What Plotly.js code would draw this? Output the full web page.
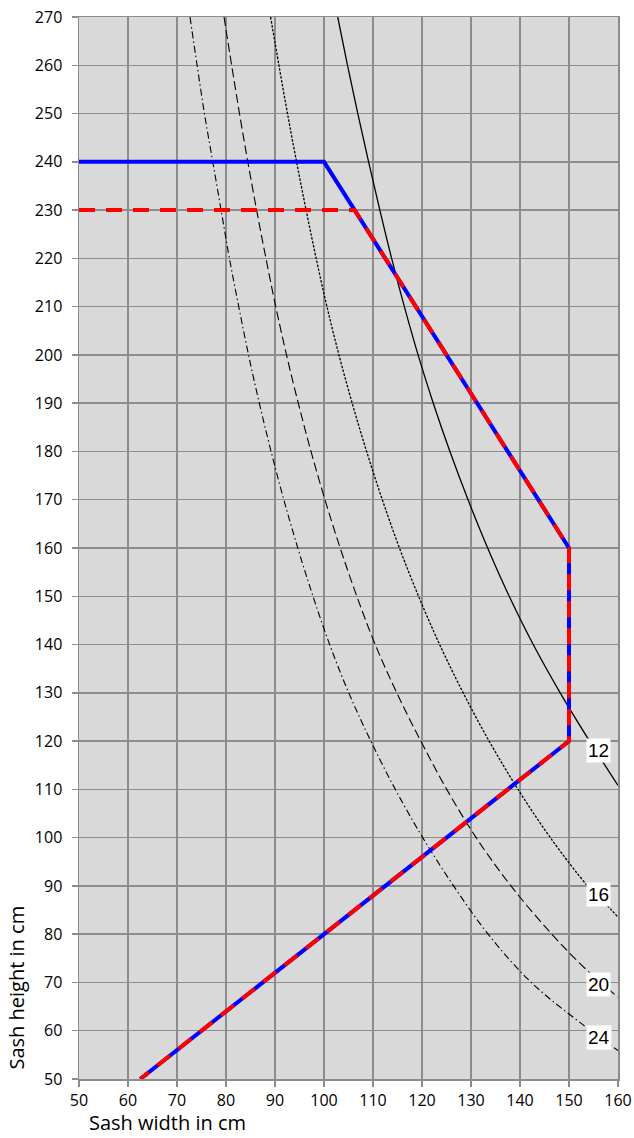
<!DOCTYPE html>
<html>
<head>
<meta charset="utf-8">
<script src="https://cdn.plot.ly/plotly-3.0.1.min.js"></script>
<style>
html,body{margin:0;padding:0;background:#fff;}
#chart{width:634px;height:1138px;}
</style>
</head>
<body>
<div id="chart"></div>
<script>
// ---- data ----
var xTicks = [50,60,70,80,90,100,110,120,130,140,150,160];
var yTicks = [50,60,70,80,90,100,110,120,130,140,150,160,170,180,190,200,210,220,230,240,250,260,270];

var curveLabels = ["12","16","20","24"];

var c12x = [102.8,104.8,106.9,109.1,111.4,113.8,116.4,119.2,122.3,125.7,129.4,133.4,137.8,142.7,148.2,154.2,160.0];
var c12y = [270,260,250,240,230,220,210,200,190,180,170,160,150,140,130,120,110.8];

var c16x = [89.1,90.8,92.55,94.4,96.35,98.4,100.6,103.05,105.75,108.7,111.9,115.4,119.3,123.6,128.4,133.7,139.6,146.2,153.8,157.1,160.2];
var c16y = [270,260,250,240,230,220,210,200,190,180,170,160,150,140,130,120,110,100,90,86.7,83.3];

var c20x = [79.6,81.15,82.75,84.45,86.25,88.15,90.15,92.35,94.75,97.35,100.2,103.3,106.7,110.45,114.85,119.75,125.05,131.05,138.15,146.5,153.6,160.3];
var c20y = [270,260,250,240,230,220,210,200,190,180,170,160,150,140,130,120,110,100,90,80,72.6,66.7];

var c24x = [72.65,74.1,75.6,77.3,79.0,80.7,82.6,84.6,86.8,89.2,91.8,94.65,97.75,101.15,105.05,109.55,114.55,120.15,126.45,133.5,142.3,152.9,160.0];
var c24y = [270,260,250,240,230,220,210,200,190,180,170,160,150,140,130,120,110,100,90,80,70,61.2,55.9];

var blueX = [50,100,150,150,62.5];
var blueY = [240,240,160,120,50];

var redX = [50,106.25,150,150,62.5];
var redY = [230,230,160,120,50];

// ---- traces ----
function curve(x,y,dash,w){
  return {x:x,y:y,mode:'lines',type:'scatter',hoverinfo:'skip',
    line:{color:'#000000',width:w,dash:dash,shape:'spline',smoothing:1}};
}
var traces = [
  curve(c24x,c24y,'7px,3px,1.5px,3px',1.1),
  curve(c20x,c20y,'9px,4px',1.1),
  curve(c16x,c16y,'2.5px,1.5px',1.3),
  curve(c12x,c12y,'solid',1.3),
  {x:blueX,y:blueY,mode:'lines',type:'scatter',line:{color:'#0000ff',width:4},hoverinfo:'skip'},
  {x:redX,y:redY,mode:'lines',type:'scatter',line:{color:'#ff0000',width:4,dash:'16px,11px'},hoverinfo:'skip'}
];

var labelPos = [[156.1,118.0],[156.1,88.3],[156.1,69.6],[156.1,58.65]];
var annotations = curveLabels.map(function(t,i){
  return {x:labelPos[i][0],y:labelPos[i][1],xref:'x',yref:'y',text:t,showarrow:false,
    font:{family:'Liberation Sans, Arial, sans-serif',size:19,color:'#000'},
    bgcolor:'#ffffff',borderpad:1,xanchor:'center',yanchor:'middle'};
});
annotations.push({xref:'paper',yref:'paper',x:0.0148,y:-0.0405,xanchor:'left',yanchor:'middle',
  text:'Sash width in cm',showarrow:false,font:{family:'Open Sans, sans-serif',size:20,color:'#000'}});
annotations.push({xref:'paper',yref:'paper',x:-0.116,y:0.0866,xanchor:'center',yanchor:'middle',textangle:-90,
  text:'Sash height in cm',showarrow:false,font:{family:'Open Sans, sans-serif',size:20,color:'#000'}});

var axisCommon = {
  showgrid:true, gridcolor:'#8c8c8c', gridwidth:1.5,
  showline:true, linecolor:'#8c8c8c', linewidth:1.5, mirror:true,
  ticks:'outside', ticklen:6, tickcolor:'#8c8c8c', tickwidth:1.5,
  zeroline:false, tickfont:{family:'Open Sans, sans-serif',size:16,color:'#000'}
};

var layout = {
  width:634, height:1138,
  margin:{l:79,r:16,t:17,b:59},
  paper_bgcolor:'#ffffff', plot_bgcolor:'#d9d9d9',
  showlegend:false,
  xaxis:Object.assign({},axisCommon,{range:[50,160],tickmode:'array',tickvals:xTicks,ticktext:xTicks.map(String)}),
  yaxis:Object.assign({},axisCommon,{range:[50,270],tickmode:'array',tickvals:yTicks,ticktext:yTicks.map(String),ticklabelstandoff:6}),
  annotations:annotations
};

Plotly.newPlot('chart',traces,layout,{staticPlot:true,displayModeBar:false});
</script>
</body>
</html>
